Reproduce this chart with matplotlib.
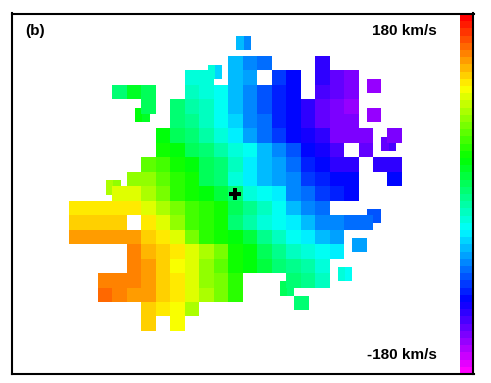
import numpy as np
import matplotlib
matplotlib.use('Agg')
import matplotlib.pyplot as plt
from matplotlib.colors import LinearSegmentedColormap

n = np.nan

# line of sight velocity (km/s) per spaxel, one list per row, first col in row_start
row_start = [11, 8, 3, 5, 7, 6, 6, 5, 4, 3, 0, 0, 0, 4, 4, 2, 2, 5, 5]
row_00 = [-54, -66, -76, n, n, n, -120]
row_01 = [-22, -24, n, -54, -64, n, -90, -102, n, -118, -132, -142]
row_02 = [6, 24, 12, n, n, -16, -22, -36, -54, -66, -82, -94, -108, n, -126, -136, -144]
row_03 = [10, n, 0, -12, -18, -34, -54, -70, -82, -96, -108, -120, -130, -138, -146]
row_04 = [2, -6, -18, -30, -48, -66, -78, -94, -108, -118, -130, -142, -144]
row_05 = [34, 10, 0, -12, -24, -38, -58, -74, -90, -102, -112, -120, -138, -142, -144, n, -138]
row_06 = [38, 30, 12, 0, -12, -24, -36, -54, -72, -86, -108, -114, -126, n, -130]
row_07 = [62, 54, 38, 30, 14, 0, -18, -38, -54, -62, -78, -94, -106, -118, -118, n, -118, -118]
row_08 = [79, 72, 60, 50, 36, 12, 0, -22, -42, -56, -60, -72, -90, -98, -108, -108, n, n, -108]
row_09 = [94, 94, 82, 70, 50, 36, 32, 18, 6, -24, -36, -38, -65, -78, -90, -98, -102]
row_10 = [110, 115, 110, 113, 108, 94, 86, 66, 54, 48, 38, 10, -6, -18, -36, -54, -66, -78]
row_11 = [122, 122, 122, 122, n, 110, 94, 74, 54, 48, 36, 4, -10, -24, -30, -42, -56, -66, -72, -78, -78]
row_12 = [132, 130, 132, 132, 130, 120, 108, 94, 66, 50, 42, 30, 18, -2, -18, -36, -42, -54, -58]
row_13 = [138, 127, 118, 108, 94, 82, 66, 38, 30, 10, -6, -18, -24, -36, -42]
row_14 = [138, 132, 120, 106, 94, 78, 60, 42, 34, 18, 0, -6, -14, -24]
row_15 = [142, 142, 138, 132, 122, 110, 96, 78, 66, 50, n, n, n, 6, -6, -16]
row_16 = [144, 139, 134, 130, 120, 110, 98, 82, 66, 50]
row_17 = [122, 113, 101, 86]
row_18 = [120, n, 102]
rows = [row_00, row_01, row_02, row_03, row_04, row_05, row_06, row_07, row_08, row_09,
        row_10, row_11, row_12, row_13, row_14, row_15, row_16, row_17, row_18]

# spaxels of the offset pointing, half a cell off the main grid
off_col = [11.5, 2.5, 9.5, 4.5, 20.5, 20.5, 21.5, 20.5, 19.5, 18.5, 14.5, 15.5]
off_row = [-1.5, 8.5, 0.5, 3.5, 1.5, 3.5, 5.5, 10.5, 12.5, 14.5, 15.5, 16.5]
off_left = [-54, 86, -24, 34, -146, -146, -130, -86, -64, -26, 10, 6]
off_right = [-66, 78, -48, 26, -150, -150, -126, -82, -60, -30, 6, 0]

cross_col = [11.45]
cross_row = [9.5]

hue_stops = ['#ff0000', '#ffff00', '#00ff00', '#00ffff', '#0000ff', '#ff00ff']
cmap = LinearSegmentedColormap.from_list('vel', hue_stops[::-1], N=50)

plt.rcParams['font.family'] = ['Liberation Sans', 'DejaVu Sans']

fig = plt.figure(figsize=(4.91, 3.83), dpi=100)
ax = fig.add_axes([11.5 / 491, 1 - 373.5 / 383, 462 / 491, 360 / 383])
ax.set_xticks([])
ax.set_yticks([])
for s in ax.spines.values():
    s.set_linewidth(1.5)
    s.set_zorder(10)

# offset cells go under the main grid
fine = np.full((50, 62), np.nan)
for c, r, a, b in zip(off_col, off_row, off_left, off_right):
    i = int((r + 3) * 2)
    j = int((c + 4) * 2)
    fine[i:i + 2, j] = a
    fine[i:i + 2, j + 1] = b
ax.imshow(fine, extent=(-4, 27, 22, -3), cmap=cmap, vmin=-180, vmax=180,
          interpolation='nearest', aspect='auto', zorder=1)

grid = np.full((19, 23), np.nan)
for i, (st, vals) in enumerate(zip(row_start, rows)):
    grid[i, st:st + len(vals)] = vals
ax.imshow(grid, extent=(0, 23, 19, 0), cmap=cmap, vmin=-180, vmax=180,
          interpolation='nearest', aspect='auto', zorder=2)
ax.set_xlim(-4, 27.93)
ax.set_ylim(21.92, -3)

ax.plot(cross_col, cross_row, marker='P', ms=9, color='black', mec='black', mew=0, ls='none', zorder=3)

cax = ax.inset_axes([(460 - 11.5) / 462, 0, 13.5 / 462, 1], zorder=1)
cax.imshow(np.linspace(180, -180, 50)[:, None], cmap=cmap, vmin=-180, vmax=180,
           aspect='auto', interpolation='nearest')
cax.set_xticks([])
cax.set_yticks([])
for s in cax.spines.values():
    s.set_visible(False)

ax.text(25 / 491, 1 - 31 / 383, '(b)', transform=fig.transFigure, fontsize=11, fontweight='bold',
        ha='left', va='center')
ax.text(437 / 491, 1 - 31 / 383, '180 km/s', transform=fig.transFigure, fontsize=11, fontweight='bold',
        ha='right', va='center')
ax.text(437 / 491, 1 - 355 / 383, '-180 km/s', transform=fig.transFigure, fontsize=11, fontweight='bold',
        ha='right', va='center')

fig.savefig('out.png', dpi=100)
